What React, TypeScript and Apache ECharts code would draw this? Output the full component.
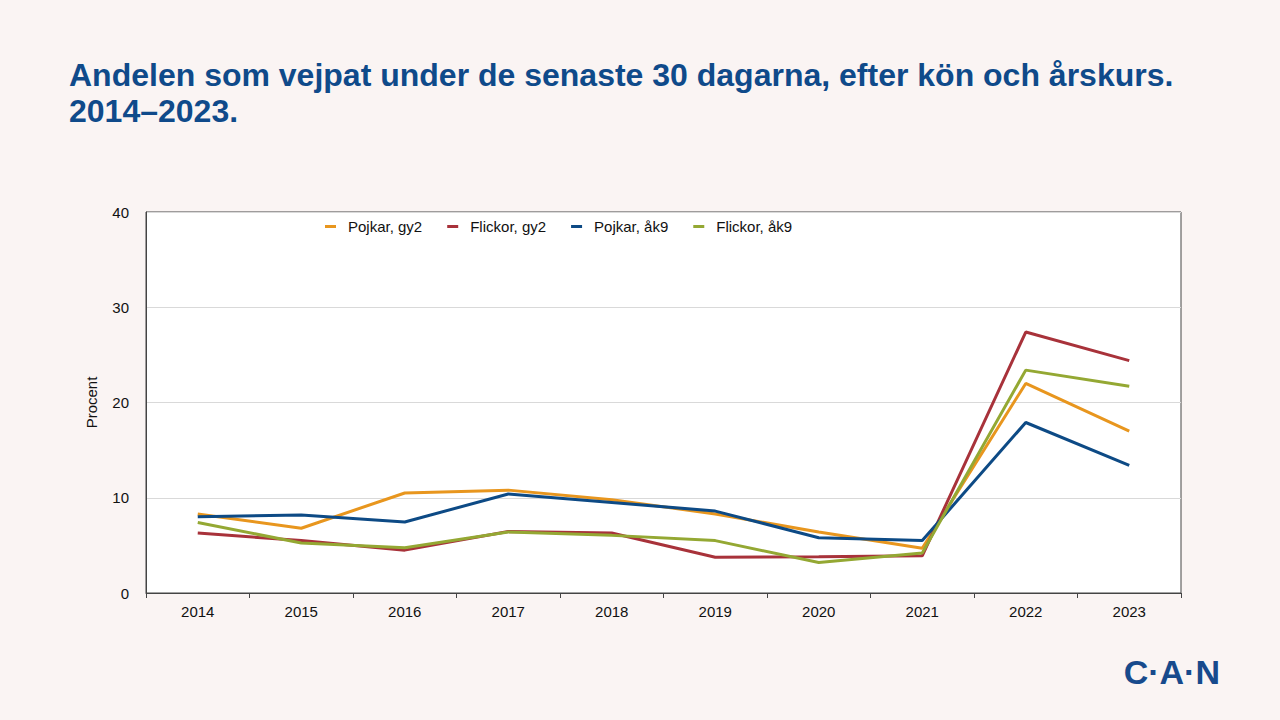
import React, { useEffect, useRef } from "react";
import * as echarts from "echarts";

const years = ["2014", "2015", "2016", "2017", "2018", "2019", "2020", "2021", "2022", "2023"];
const pojkarGy2 = [8.3, 6.8, 10.5, 10.8, 9.8, 8.3, 6.4, 4.7, 22.0, 17.0];
const flickorGy2 = [6.3, 5.5, 4.5, 6.45, 6.3, 3.75, 3.8, 3.9, 27.4, 24.4];
const pojkarAk9 = [8.0, 8.2, 7.45, 10.4, 9.5, 8.6, 5.8, 5.5, 17.9, 13.4];
const flickorAk9 = [7.4, 5.25, 4.75, 6.4, 6.05, 5.5, 3.2, 4.2, 23.4, 21.7];
const seriesNames = ["Pojkar, gy2", "Flickor, gy2", "Pojkar, åk9", "Flickor, åk9"];
const colors = ["#e8961e", "#a8323a", "#0d4a85", "#94a833"];
const titleText = "Andelen som vejpat under de senaste 30 dagarna, efter kön och årskurs.\n2014–2023.";

export default function App() {
  const ref = useRef<HTMLDivElement>(null);
  useEffect(() => {
    if (!ref.current) return;
    const chart = echarts.init(ref.current, null, { renderer: "svg" });
    const data = [pojkarGy2, flickorGy2, pojkarAk9, flickorAk9];
    chart.setOption({
      animation: false,
      backgroundColor: "#faf4f3",
      textStyle: { fontFamily: "Liberation Sans, Arial, sans-serif" },
      title: {
        text: titleText,
        left: 64,
        top: 52,
        textStyle: {
          fontFamily: "Liberation Sans, Arial, sans-serif",
          fontSize: 32,
          fontWeight: "bold",
          color: "#0f4a8a",
          lineHeight: 36,
        },
      },
      legend: {
        top: 214,
        left: 320,
        itemGap: 25,
        itemWidth: 11,
        itemHeight: 3,
        icon: "rect",
        textStyle: { fontSize: 15, color: "#111", padding: [0, 0, 0, 7] },
        data: seriesNames,
      },
      grid: {
        left: 146,
        right: 99,
        top: 212,
        bottom: 127,
        show: true,
        backgroundColor: "#ffffff",
        borderColor: "#444",
        borderWidth: 1,
      },
      xAxis: {
        type: "category",
        data: years,
        boundaryGap: true,
        axisLine: { lineStyle: { color: "#444" } },
        axisTick: { show: true, length: 5, lineStyle: { color: "#444" } },
        axisLabel: { fontSize: 15, color: "#111", margin: 11 },
      },
      yAxis: {
        type: "value",
        min: 0,
        max: 40,
        interval: 10,
        name: "Procent",
        nameLocation: "middle",
        nameGap: 47,
        nameTextStyle: { fontSize: 15, color: "#111" },
        axisLine: { show: true, lineStyle: { color: "#444" } },
        axisTick: { show: false },
        axisLabel: { fontSize: 15, color: "#111", margin: 17 },
        splitLine: { lineStyle: { color: "#d9d9d9", width: 1 } },
      },
      series: seriesNames.map((name, i) => ({
        name,
        type: "line",
        data: data[i],
        symbol: "none",
        color: colors[i],
        lineStyle: { width: 3, color: colors[i] },
      })),
      graphic: [
        {
          type: "text",
          right: 60,
          top: 655,
          style: {
            text: "C·A·N",
            fontFamily: "Liberation Sans, Arial, sans-serif",
            fontSize: 34,
            fontWeight: "bold",
            fill: "#174a8c",
          },
        },
      ],
    });
    return () => chart.dispose();
  }, []);
  return (
    <div
      ref={ref}
      style={{ position: "fixed", left: 0, top: 0, width: 1280, height: 720 }}
    />
  );
}
